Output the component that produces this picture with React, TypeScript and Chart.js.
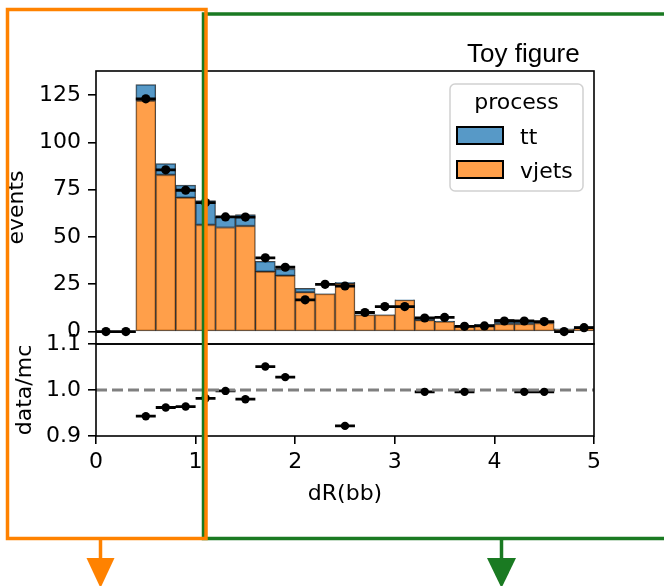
import React, { useEffect, useRef } from "react";
import { Chart, registerables } from "chart.js";

Chart.register(...registerables);

// ---------- data ----------
const binEdges = [0, 0.2, 0.4, 0.6, 0.8, 1.0, 1.2, 1.4, 1.6, 1.8, 2.0, 2.2, 2.4, 2.6, 2.8, 3.0, 3.2, 3.4, 3.6, 3.8, 4.0, 4.2, 4.4, 4.6, 4.8, 5.0];
const vjetsCounts = [null, null, 122, 82.8, 70.8, 56.4, 55.0, 55.8, 31.7, 29.6, 20.8, 19.9, 25.5, 8.8, 8.8, 16.7, 6.0, 5.3, 2.7, 3.6, 4.0, 4.0, 4.5, 1.3, 2.5];
const ttCounts = [null, null, 8.5, 6.0, 6.6, 12.8, 5.8, 6.0, 5.4, 3.5, 2.0, 0.1, 0.6, 0.1, 0.1, 0.1, 1.2, 0.2, 0.1, 0.3, 2.5, 1.6, 0.8, 0.2, 0.2];
const dataCounts = [0, 0, 123.0, 85.5, 74.7, 68.2, 60.6, 60.5, 39.0, 34.0, 16.8, 25.0, 24.1, 10.1, 13.2, 13.2, 7.2, 7.5, 2.8, 3.0, 5.6, 5.6, 5.3, 0, 2.1];
const ratioValues = [null, null, 0.943, 0.962, 0.964, 0.982, 0.998, 0.980, 1.051, 1.028, 0.74, 1.25, 0.922, 1.13, 1.48, 0.79, 0.996, 1.36, 0.996, 0.77, 0.86, 0.996, 0.996, 0, 0.78];

const mainYTicks = [0, 25, 50, 75, 100, 125];
const ratioYTicks = [0.9, 1.0, 1.1];
const xTicks = [0, 1, 2, 3, 4, 5];
const xRange = [0, 5];
const mainYRange = [-6.55, 137.7];
const ratioYRange = [0.9, 1.1];
const ratioReference = 1.0;

const seriesNames = { tt: "tt", vjets: "vjets" };
const legendTitle = "process";
const figureTitle = "Toy figure";

// ---------- styles ----------
const FONT = '"DejaVu Sans", sans-serif';
const ORANGE_FILL = "rgba(255,127,14,0.75)";
const BLUE_FILL = "rgba(31,119,180,0.75)";
const EDGE = "rgba(0,0,0,0.72)";

const centers = binEdges.slice(0, -1).map((e, i) => (e + binEdges[i + 1]) / 2);

function barPoints(values: (number | null)[]) {
  return values.map((v, i) => ({ x: centers[i], y: v }));
}

function errorSegments(values: (number | null)[]) {
  const pts: { x: number; y: number | null }[] = [];
  values.forEach((v, i) => {
    if (v === null) return;
    pts.push({ x: binEdges[i], y: v }, { x: binEdges[i + 1], y: v }, { x: binEdges[i + 1], y: null });
  });
  return pts;
}

const framePlugin = {
  id: "frame",
  afterDatasetsDraw(chart: any) {
    const { ctx, chartArea } = chart;
    ctx.save();
    ctx.strokeStyle = "#000";
    ctx.lineWidth = 1.6;
    ctx.strokeRect(chartArea.left, chartArea.top, chartArea.right - chartArea.left, chartArea.bottom - chartArea.top);
    ctx.restore();
  },
};

const decorPlugin = {
  id: "decor",
  afterDraw(chart: any) {
    const { ctx } = chart;
    ctx.save();
    // title
    ctx.fillStyle = "#000";
    ctx.font = '26px "Liberation Sans", Arial, sans-serif';
    ctx.textAlign = "left";
    ctx.textBaseline = "alphabetic";
    ctx.fillText(figureTitle, 467, 62);
    // legend box
    const bx = 450, by = 84, bw = 133, bh = 107, r = 5;
    ctx.beginPath();
    ctx.moveTo(bx + r, by);
    ctx.arcTo(bx + bw, by, bx + bw, by + bh, r);
    ctx.arcTo(bx + bw, by + bh, bx, by + bh, r);
    ctx.arcTo(bx, by + bh, bx, by, r);
    ctx.arcTo(bx, by, bx + bw, by, r);
    ctx.closePath();
    ctx.fillStyle = "rgba(255,255,255,0.8)";
    ctx.fill();
    ctx.strokeStyle = "rgba(204,204,204,0.9)";
    ctx.lineWidth = 1.5;
    ctx.stroke();
    ctx.fillStyle = "#000";
    ctx.font = "22px " + FONT;
    ctx.textAlign = "center";
    ctx.fillText(legendTitle, bx + bw / 2, 109);
    const entries = [
      { name: seriesNames.tt, fill: BLUE_FILL, y: 127 },
      { name: seriesNames.vjets, fill: ORANGE_FILL, y: 161 },
    ];
    entries.forEach((e) => {
      ctx.fillStyle = "#fff";
      ctx.fillRect(457, e.y, 46, 17);
      ctx.fillStyle = e.fill;
      ctx.fillRect(457, e.y, 46, 17);
      ctx.strokeStyle = "#000";
      ctx.lineWidth = 2;
      ctx.strokeRect(457, e.y, 46, 17);
      ctx.fillStyle = "#000";
      ctx.textAlign = "left";
      ctx.fillText(e.name, 520, e.y + 16.5);
    });
    ctx.restore();
  },
};

function zeroPad(scale: any) {
  scale.paddingTop = 0;
  scale.paddingBottom = 0;
  scale.paddingLeft = 0;
  scale.paddingRight = 0;
}

const tickGrid = {
  display: true,
  drawOnChartArea: false,
  drawTicks: true,
  tickLength: 8,
  color: "#000",
  lineWidth: 1.6,
};

export default function App() {
  const mainRef = useRef<HTMLCanvasElement>(null);
  const ratioRef = useRef<HTMLCanvasElement>(null);

  useEffect(() => {
    Chart.defaults.font.family = FONT;
    Chart.defaults.font.size = 22;
    Chart.defaults.color = "#000";

    const main = new Chart(mainRef.current as HTMLCanvasElement, {
      type: "bar",
      data: {
        datasets: [
          {
            type: "line",
            label: "data",
            data: barPoints(dataCounts),
            showLine: false,
            pointRadius: 4.6,
            pointBackgroundColor: "#000",
            pointBorderWidth: 0,
          } as any,
          {
            type: "line",
            label: "data-err",
            data: errorSegments(dataCounts),
            borderColor: "#000",
            borderWidth: 2.8,
            pointRadius: 0,
            spanGaps: false,
          } as any,
          {
            type: "bar",
            label: seriesNames.vjets,
            data: barPoints(vjetsCounts),
            backgroundColor: ORANGE_FILL,
            borderColor: EDGE,
            borderWidth: 1,
            borderSkipped: false,
            stack: "mc",
            barPercentage: 1,
            categoryPercentage: 1,
          } as any,
          {
            type: "bar",
            label: seriesNames.tt,
            data: barPoints(ttCounts),
            backgroundColor: BLUE_FILL,
            borderColor: EDGE,
            borderWidth: 1,
            borderSkipped: false,
            stack: "mc",
            barPercentage: 1,
            categoryPercentage: 1,
          } as any,
        ],
      },
      options: {
        animation: false,
        responsive: false,
        layout: { autoPadding: false, padding: { top: 71, right: 70, bottom: 2, left: 0 } },
        plugins: { legend: { display: false }, tooltip: { enabled: false } },
        scales: {
          x: {
            type: "linear",
            min: xRange[0],
            max: xRange[1],
            offset: false,
            display: false,
            afterFit: (s: any) => {
              s.height = 0;
              zeroPad(s);
            },
          },
          y: {
            type: "linear",
            min: mainYRange[0],
            max: mainYRange[1],
            grid: tickGrid,
            border: { display: false },
            ticks: { color: "#000", padding: 7, font: { size: 22 }, autoSkip: false },
            afterBuildTicks: (s: any) => {
              s.ticks = mainYTicks.map((v) => ({ value: v }));
            },
            afterFit: (s: any) => {
              s.width = 96;
              zeroPad(s);
            },
            title: { display: true, text: "events", color: "#000", font: { size: 22 }, padding: { top: 4, bottom: 0 } },
          },
        },
      } as any,
      plugins: [framePlugin, decorPlugin],
    });

    const ratio = new Chart(ratioRef.current as HTMLCanvasElement, {
      type: "line",
      data: {
        datasets: [
          {
            label: "ratio",
            data: barPoints(ratioValues),
            showLine: false,
            pointRadius: 4.2,
            pointBackgroundColor: "#000",
            pointBorderWidth: 0,
            clip: 0,
          } as any,
          {
            label: "reference",
            data: [
              { x: xRange[0], y: ratioReference },
              { x: xRange[1], y: ratioReference },
            ],
            borderColor: "#808080",
            borderWidth: 3,
            borderDash: [11, 5],
            pointRadius: 0,
          } as any,
          {
            label: "ratio-err",
            data: errorSegments(ratioValues),
            borderColor: "#000",
            borderWidth: 2.8,
            pointRadius: 0,
            spanGaps: false,
            clip: 0,
          } as any,
        ],
      },
      options: {
        animation: false,
        responsive: false,
        layout: { autoPadding: false, padding: { top: 24, right: 70, bottom: 0, left: 0 } },
        plugins: { legend: { display: false }, tooltip: { enabled: false } },
        scales: {
          x: {
            type: "linear",
            min: xRange[0],
            max: xRange[1],
            offset: false,
            grid: tickGrid,
            border: { display: false },
            ticks: { color: "#000", padding: 5, font: { size: 22 }, autoSkip: false, maxRotation: 0 },
            afterBuildTicks: (s: any) => {
              s.ticks = xTicks.map((v) => ({ value: v }));
            },
            afterFit: (s: any) => {
              s.height = 150;
              zeroPad(s);
            },
            title: { display: true, text: "dR(bb)", color: "#000", font: { size: 22 }, padding: { top: 0, bottom: 79 } },
          },
          y: {
            type: "linear",
            min: ratioYRange[0],
            max: ratioYRange[1],
            grid: tickGrid,
            border: { display: false },
            ticks: {
              color: "#000",
              padding: 7,
              font: { size: 22 },
              autoSkip: false,
              callback: (v: any) => Number(v).toFixed(1),
            },
            afterBuildTicks: (s: any) => {
              s.ticks = ratioYTicks.map((v) => ({ value: v }));
            },
            afterFit: (s: any) => {
              s.width = 96;
              zeroPad(s);
            },
            title: { display: true, text: "data/mc", color: "#000", font: { size: 22 }, padding: { top: 12.5, bottom: 0 } },
          },
        },
      } as any,
      plugins: [framePlugin],
    });

    return () => {
      main.destroy();
      ratio.destroy();
    };
  }, []);

  const green = "#1a7a22";
  const orange = "#ff8200";

  return (
    <div style={{ position: "absolute", left: 0, top: 0, width: 664, height: 586, background: "#fff", overflow: "hidden" }}>
      <canvas ref={mainRef} width={664} height={346} style={{ position: "absolute", left: 0, top: 0, width: 664, height: 346 }} />
      <canvas ref={ratioRef} width={664} height={266} style={{ position: "absolute", left: 0, top: 320, width: 664, height: 266 }} />
      <svg width={664} height={586} style={{ position: "absolute", left: 0, top: 0, pointerEvents: "none" }}>
        <polyline points="668,14 203.5,14 203.5,538.5 668,538.5" fill="none" stroke={green} strokeWidth={3.5} />
        <line x1={501.5} y1={538.5} x2={501.5} y2={560} stroke={green} strokeWidth={3.5} />
        <polygon points="487,558 516,558 501.5,588" fill={green} />
        <rect x={7.5} y={9.5} width={198.5} height={529} fill="none" stroke={orange} strokeWidth={3.5} />
        <line x1={100.5} y1={538.5} x2={100.5} y2={560} stroke={orange} strokeWidth={3.5} />
        <polygon points="86.5,558 114.5,558 100.5,588" fill={orange} />
      </svg>
    </div>
  );
}
